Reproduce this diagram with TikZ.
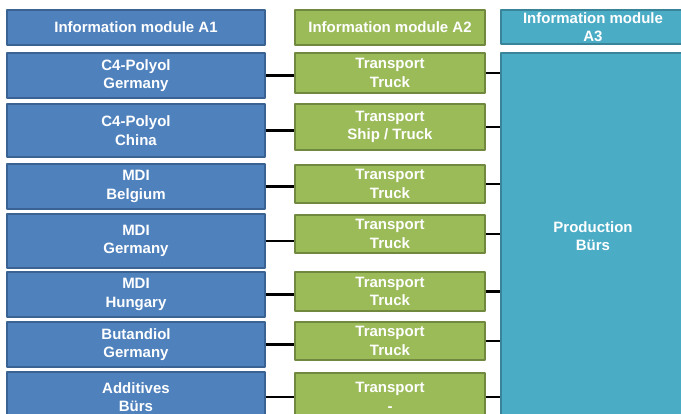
\documentclass[tikz,border=0pt]{standalone}
\usepackage{fontspec}
\setmainfont{Liberation Sans}
\definecolor{modblue}{HTML}{4F81BD}
\definecolor{modblueline}{HTML}{3A6394}
\definecolor{modgreen}{HTML}{9BBB59}
\definecolor{modgreenline}{HTML}{71893F}
\definecolor{modteal}{HTML}{4BACC6}
\definecolor{modtealline}{HTML}{3A8499}
\tikzset{
  modbox/.style={draw, line width=2pt, text=white, align=center, inner sep=0pt},
  abox/.style={modbox, fill=modblue, draw=modblueline, minimum width=258pt},
  tbox/.style={modbox, fill=modgreen, draw=modgreenline, minimum width=190pt},
  pbox/.style={modbox, fill=modteal, draw=modtealline, minimum width=184pt},
  link/.style={line width=2.5pt, black}
}
\begin{document}
\begin{tikzpicture}[x=1pt, y=-1pt, line join=round, font=\fontsize{15}{18.5}\selectfont\bfseries]
			\useasboundingbox (0,0) rectangle (681,414);
			\clip (0,0) rectangle (681,414);
			% headers
			\node[abox, minimum height=35pt] (ha1) at (136,27.5) {Information module A1};
			\node[tbox, minimum height=35pt] (ha2) at (390,27.5) {Information module A2};
			\node[pbox, minimum height=34pt] (ha3) at (593,27) {Information module\\A3};
			% A1 materials
			\node[abox, minimum height=45pt] (b1) at (136,75.5) {C4-Polyol\\Germany};
			\node[abox, minimum height=53pt] (b2) at (136,130.5) {C4-Polyol\\China};
			\node[abox, minimum height=45pt] (b3) at (136,186.5) {MDI\\Belgium};
			\node[abox, minimum height=54pt] (b4) at (136,241) {MDI\\Germany};
			\node[abox, minimum height=45pt] (b5) at (136,294.5) {MDI\\Hungary};
			\node[abox, minimum height=45pt] (b6) at (136,344.5) {Butandiol\\Germany};
			\node[abox, minimum height=50pt] (b7) at (136,397) {Additives\\Bürs};
			% A2 transport
			\node[tbox, minimum height=40pt] (g1) at (390,73) {Transport\\Truck};
			\node[tbox, minimum height=46pt] (g2) at (390,127) {Transport\\Ship / Truck};
			\node[tbox, minimum height=38pt] (g3) at (390,184) {Transport\\Truck};
			\node[tbox, minimum height=38pt] (g4) at (390,234) {Transport\\Truck};
			\node[tbox, minimum height=39pt] (g5) at (390,291.5) {Transport\\Truck};
			\node[tbox, minimum height=38pt] (g6) at (390,341) {Transport\\Truck};
			\node[tbox, minimum height=48pt] (g7) at (390,397) {Transport\\-};
			% A3 production
			\node[pbox, minimum height=366pt] (prod) at (593,236) {Production\\Bürs};
			% links
			\foreach \i in {1,...,7}{
				\draw[link] (b\i.east) -- (b\i.east -| g\i.west);
				\draw[link] (g\i.east) -- (g\i.east -| prod.west);
			}
		\end{tikzpicture}
\end{document}
